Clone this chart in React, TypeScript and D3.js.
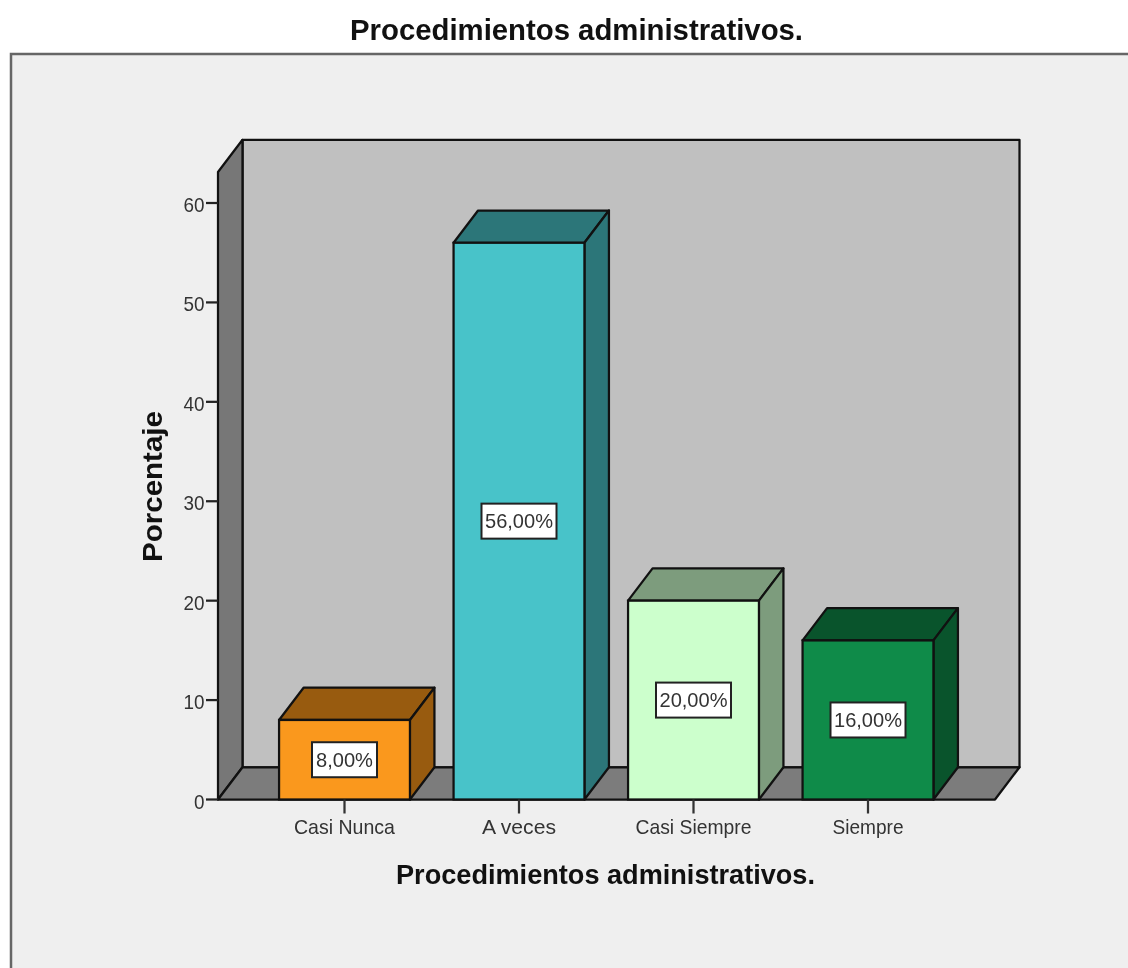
import React from "react";
import * as d3 from "d3";

const categories = ["Casi Nunca", "A veces", "Casi Siempre", "Siempre"];
const values = [8, 56, 20, 16];
const valueLabels = ["8,00%", "56,00%", "20,00%", "16,00%"];
const frontColors = ["#fa981d", "#48c3c9", "#ccffcc", "#0f8b49"];
const shadeColors = ["#985b0f", "#2c7679", "#7d9c7d", "#09542c"];
const yTicks = [0, 10, 20, 30, 40, 50, 60];
const titleText = "Procedimientos administrativos.";
const yTitle = "Porcentaje";

const W = 1128, H = 968;
const dx = 24.5, dy = -32.25;
const left = 218, right = 995, base = 799.5, frontTop = 172;
const line = "#111";
const font = "'Liberation Sans', Arial, sans-serif";
const catLabelWidths = [101, 74, 116, 71];
const tickLabelWidth = (t: number) => (t === 0 ? 10.5 : 21);

const y = d3.scaleLinear().domain([0, 60]).range([base, 203]);
const x = d3.scaleBand<string>().domain(categories).range([257.25, 955.25]).paddingInner(0.25).paddingOuter(0.125);
const poly = (pts: [number, number][]) => d3.line()(pts) + "Z";

export default function App() {
  const bw = x.bandwidth();
  return (
    <svg width={W} height={H} viewBox={`0 0 ${W} ${H}`} style={{ position: "fixed", left: 0, top: 0, display: "block", filter: "blur(0.6px)" }}>
      <rect width={W} height={H} fill="#fff" />
      <rect x={11} y={54} width={W + 20} height={H + 20} fill="#efefef" stroke="#666" strokeWidth={2.5} />
      <text x={576.5} y={39.5} textAnchor="middle" fontFamily={font} fontWeight="bold" fontSize={30} textLength={453} lengthAdjust="spacingAndGlyphs" fill="#111">{titleText}</text>

      {/* walls */}
      <path d={poly([[left + dx, base + dy], [right + dx, base + dy], [right + dx, frontTop + dy], [left + dx, frontTop + dy]])} fill="#c0c0c0" stroke={line} strokeWidth={2.25} strokeLinejoin="round" />
      <path d={poly([[left, base], [left + dx, base + dy], [left + dx, frontTop + dy], [left, frontTop]])} fill="#777" stroke={line} strokeWidth={2.25} strokeLinejoin="round" />
      <path d={poly([[left, base], [right, base], [right + dx, base + dy], [left + dx, base + dy]])} fill="#7c7c7c" stroke={line} strokeWidth={2.25} strokeLinejoin="round" />

      {/* y axis */}
      {yTicks.map((t) => (
        <g key={t}>
          <line x1={left - 12} x2={left} y1={y(t)} y2={y(t)} stroke="#222" strokeWidth={2.25} />
          <text x={204.5} y={y(t) + 9} textAnchor="end" fontFamily={font} fontSize={21} textLength={tickLabelWidth(t)} lengthAdjust="spacingAndGlyphs" fill="#333">{t}</text>
        </g>
      ))}
      <text transform="translate(161.5,486.5) rotate(-90)" textAnchor="middle" fontFamily={font} fontWeight="bold" fontSize={27} textLength={151} lengthAdjust="spacingAndGlyphs" fill="#111">{yTitle}</text>

      {/* bars */}
      {categories.map((c, i) => {
        const x0 = x(c)!, x1 = x0 + bw, yt = y(values[i]);
        const cx = x0 + bw / 2;
        const cy = (yt + base) / 2;
        const w = i === 0 ? 65 : 75;
        return (
          <g key={c}>
            <path d={poly([[x0, yt], [x1, yt], [x1 + dx, yt + dy], [x0 + dx, yt + dy]])} fill={shadeColors[i]} stroke={line} strokeWidth={2.25} strokeLinejoin="round" />
            <path d={poly([[x1, yt], [x1 + dx, yt + dy], [x1 + dx, base + dy], [x1, base]])} fill={shadeColors[i]} stroke={line} strokeWidth={2.25} strokeLinejoin="round" />
            <rect x={x0} y={yt} width={bw} height={base - yt} fill={frontColors[i]} stroke={line} strokeWidth={2.25} />
            <line x1={cx} x2={cx} y1={base} y2={base + 14} stroke="#333" strokeWidth={2.25} />
            <text x={cx} y={base + 34.5} textAnchor="middle" fontFamily={font} fontSize={21} textLength={catLabelWidths[i]} lengthAdjust="spacingAndGlyphs" fill="#333">{c}</text>
            <rect x={cx - w / 2} y={cy - 17.5} width={w} height={35} fill="#fff" stroke="#222" strokeWidth={2} />
            <text x={cx} y={cy + 7} textAnchor="middle" fontFamily={font} fontSize={21} textLength={i === 0 ? 57 : 68} lengthAdjust="spacingAndGlyphs" fill="#333">{valueLabels[i]}</text>
          </g>
        );
      })}

      <text x={605.5} y={884} textAnchor="middle" fontFamily={font} fontWeight="bold" fontSize={27} textLength={419} lengthAdjust="spacingAndGlyphs" fill="#111">{titleText}</text>
    </svg>
  );
}
